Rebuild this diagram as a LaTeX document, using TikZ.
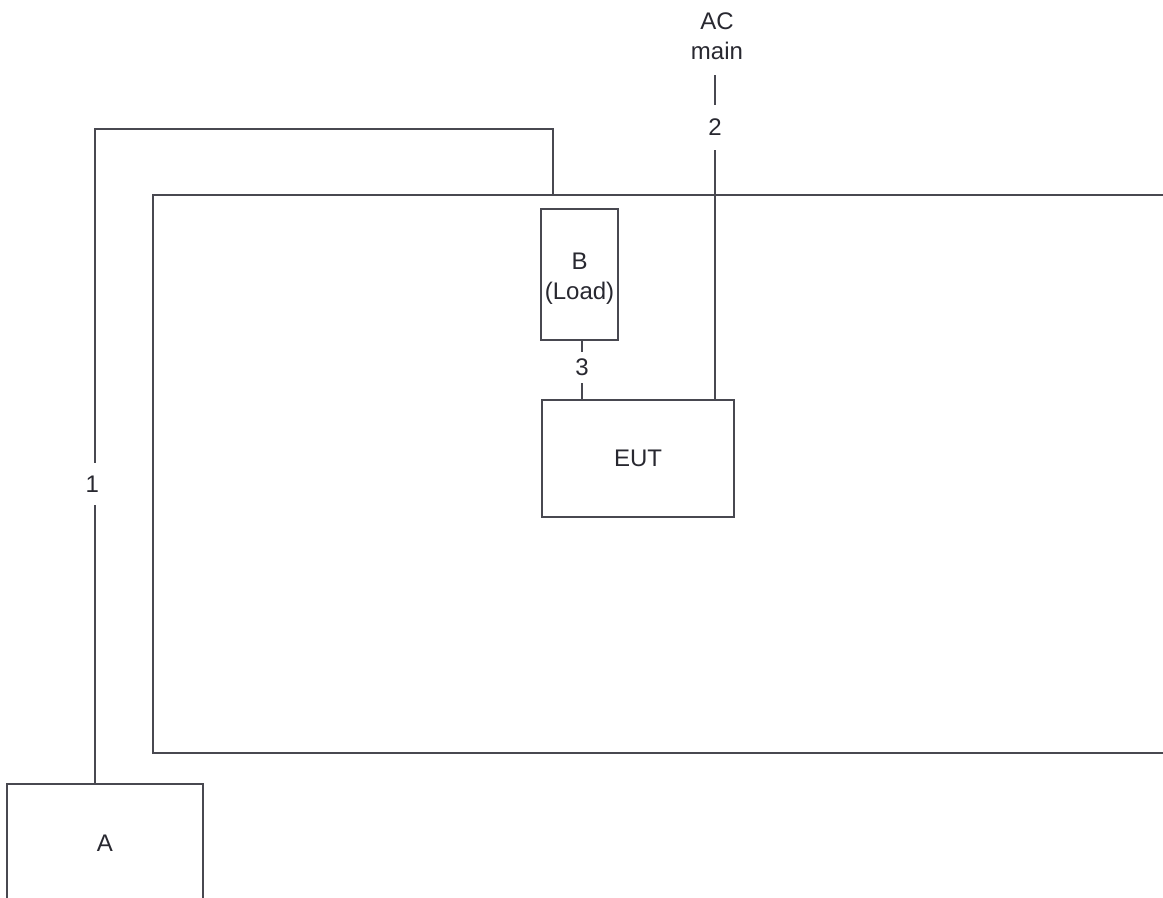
\documentclass[tikz,border=0pt]{standalone}
\usepackage{fontspec}
\setmainfont{Liberation Sans}
\definecolor{ln}{RGB}{72,72,80}
\definecolor{tx}{RGB}{40,40,48}
\begin{document}
\begin{tikzpicture}[x=0.75pt,y=-0.75pt,
  every node/.style={font=\fontsize{18}{22.5}\selectfont, text=tx},
  wire/.style={draw=ln, line width=1pt},
  box/.style={draw=ln, line width=1pt, rectangle, inner sep=0pt, align=center},
  lab/.style={inner sep=0pt, minimum width=10pt}]
\useasboundingbox (0,0) rectangle (1163,897);
\clip (0,0) rectangle (1163,897);
\fill[white] (0,0) rectangle (1163,897);
% large frame (open to the right)
\draw[wire] (1180,195) -- (153,195) -- (153,753) -- (1180,753);
\coordinate (f1) at (553,195);
% boxes
\node[box, minimum width=196*0.75pt, minimum height=118*0.75pt] (A) at (105,843) {A};
\node[box, minimum width=77*0.75pt, minimum height=131*0.75pt,
  label={[align=center, inner sep=0pt, yshift=-3.5pt]center:B\\(Load)}] (B) at (579.5,274.5) {};
\node[box, minimum width=192*0.75pt, minimum height=117*0.75pt] (EUT) at (638,458.5) {EUT};
% labels
\node[align=center, inner sep=0pt] (ac) at (717,36) {AC\\main};
\coordinate (acs) at (715,75);
\node[lab, minimum height=42*0.75pt] (l1) at (95,484) {\hspace*{-4pt}1};
\node[lab, minimum height=45*0.75pt] (l2) at (715,127.5) {2};
\node[lab, minimum height=31*0.75pt] (l3) at (582,367.5) {3};
% connectors
\draw[wire] (A.north -| l1) -- (l1.south);
\draw[wire] (l1.north) -- (l1 |- 0,129) -| (f1);
\draw[wire] (acs) -- (l2.north);
\draw[wire] (l2.south) -- (EUT.north -| l2);
\draw[wire] (B.south -| l3) -- (l3.north);
\draw[wire] (l3.south) -- (EUT.north -| l3);
\end{tikzpicture}
\end{document}
